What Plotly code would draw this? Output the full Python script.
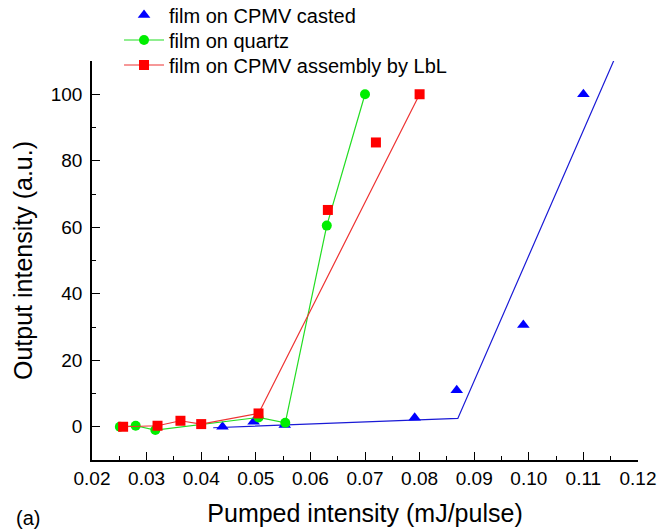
import plotly.graph_objects as go

# Data
casted_x = [0.0439, 0.0496, 0.0553, 0.0791, 0.0868, 0.0990, 0.1100]
casted_y = [0.0, 1.5, 0.5, 2.7, 11.0, 30.6, 100.0]
casted_fit_x = [0.0422, 0.0870, 0.1158]
casted_fit_y = [-0.3, 2.5, 111.0]

quartz_x = [0.0251, 0.0280, 0.0316, 0.0505, 0.0554, 0.0630, 0.0700]
quartz_y = [0.0, 0.3, -1.0, 2.8, 1.2, 60.5, 100.0]

lbl_x = [0.0257, 0.0320, 0.0362, 0.0400, 0.0505, 0.0800]
lbl_y = [0.0, 0.3, 1.8, 0.8, 4.0, 100.0]
lbl_extra_x = [0.0632, 0.0720]
lbl_extra_y = [65.2, 85.5]

x_ticks = [0.02, 0.03, 0.04, 0.05, 0.06, 0.07, 0.08, 0.09, 0.10, 0.11, 0.12]
x_tick_labels = ["0.02", "0.03", "0.04", "0.05", "0.06", "0.07", "0.08", "0.09", "0.10", "0.11", "0.12"]
y_ticks = [0, 20, 40, 60, 80, 100]

FONT = "Arial, Liberation Sans, sans-serif"

fig = go.Figure()
fig.add_trace(go.Scatter(x=casted_fit_x, y=casted_fit_y, mode="lines",
                         line=dict(color="#1a1ad6", width=1.2), showlegend=False,
                         hoverinfo="skip"))
fig.add_trace(go.Scatter(x=casted_x, y=casted_y, mode="markers", name="film on CPMV casted",
                         legend="legend",
                         marker=dict(symbol="triangle-up", size=11, color="#0000ff")))
fig.add_trace(go.Scatter(x=quartz_x, y=quartz_y, mode="lines+markers", name="film on quartz",
                         legend="legend2",
                         line=dict(color="#22dd22", width=1.2),
                         marker=dict(symbol="circle", size=10, color="#00ee00")))
fig.add_trace(go.Scatter(x=lbl_x, y=lbl_y, mode="lines+markers", name="film on CPMV assembly by LbL",
                         legend="legend3",
                         line=dict(color="#ee3333", width=1.2),
                         marker=dict(symbol="square", size=10, color="#ff0000")))
fig.add_trace(go.Scatter(x=lbl_extra_x, y=lbl_extra_y, mode="markers", showlegend=False,
                         marker=dict(symbol="square", size=10, color="#ff0000")))

axis_common = dict(showline=True, linecolor="black", linewidth=1.5, mirror=False,
                   ticks="inside", ticklen=8, tickwidth=1.3, tickcolor="black",
                   showgrid=False, zeroline=False, automargin=False,
                   tickfont=dict(family=FONT, size=19, color="black"))

fig.update_xaxes(range=[0.02, 0.12], tickvals=x_ticks, ticktext=x_tick_labels,
                 minor=dict(ticks="inside", ticklen=4, tickwidth=1.3, tickcolor="black", dtick=0.005),
                 title=dict(text="Pumped intensity (mJ/pulse)", font=dict(family=FONT, size=25, color="black"),
                            standoff=17),
                 **axis_common)
fig.update_yaxes(range=[-10, 110], tickvals=y_ticks, ticklabelstandoff=4,
                 minor=dict(ticks="inside", ticklen=4, tickwidth=1.3, tickcolor="black", dtick=10, tick0=0),
                 title=dict(text="Output intensity (a.u.)", font=dict(family=FONT, size=25, color="black"),
                            standoff=11),
                 **axis_common)

leg_common = dict(x=0.0495, xanchor="left", yanchor="top", bgcolor="rgba(0,0,0,0)",
                  font=dict(family=FONT, size=20, color="black"), itemwidth=40)

fig.update_layout(
    width=669, height=531,
    margin=dict(l=92, r=31, t=61, b=71, autoexpand=False),
    plot_bgcolor="white", paper_bgcolor="white",
    font=dict(family=FONT, color="black"),
    legend=dict(y=1.1642, **leg_common),
    legend2=dict(y=1.1015, **leg_common),
    legend3=dict(y=1.0388, **leg_common),
    annotations=[dict(text="(a)", x=-0.1429, y=-0.145, xref="paper", yref="paper", showarrow=False,
                      xanchor="left", yanchor="middle", font=dict(family=FONT, size=20, color="black"))],
)

fig.write_html("out.html", config={"displayModeBar": False},
               post_script="document.body.style.margin='0px';")
